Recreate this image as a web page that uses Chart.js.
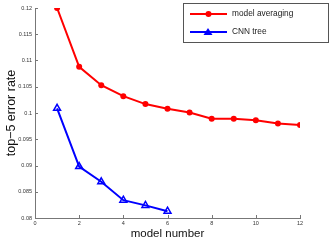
<!DOCTYPE html>
<html>
<head>
<meta charset="utf-8">
<script src="https://cdn.jsdelivr.net/npm/chart.js@4.4.0/dist/chart.umd.min.js"></script>
<style>
  html, body { margin: 0; padding: 0; background: #fff; }
  #wrap { width: 332px; height: 241px; }
</style>
</head>
<body>
<div id="wrap"><canvas id="chart" width="332" height="241"></canvas></div>
<script>
// ========== DATA ========== //
const modelNumbers = [1, 2, 3, 4, 5, 6, 7, 8, 9, 10, 11, 12];
const averagingErr = [0.1200, 0.1088, 0.1053, 0.1032, 0.1017, 0.1008, 0.1001, 0.0989, 0.0989, 0.0986, 0.0980, 0.0977];
const treeModels = [1, 2, 3, 4, 5, 6];
const treeErr = [0.1009, 0.0898, 0.0869, 0.0834, 0.0824, 0.0813];
const xTicks = [0, 2, 4, 6, 8, 10, 12];
const yTicks = [0.08, 0.085, 0.09, 0.095, 0.1, 0.105, 0.11, 0.115, 0.12];

const FONT = "'Liberation Sans', Arial, sans-serif";

// ticks drawn inward, MATLAB style
const inwardTicks = {
  id: "inwardTicks",
  afterDraw(c) {
    const ctx = c.ctx, x = c.scales.x, y = c.scales.y;
    ctx.save();
    ctx.strokeStyle = "#777";
    ctx.lineWidth = 1;
    ctx.beginPath();
    xTicks.forEach(v => {
      const px = Math.round(x.getPixelForValue(v)) + 0.5;
      ctx.moveTo(px, y.bottom); ctx.lineTo(px, y.bottom - 3);
    });
    yTicks.forEach(v => {
      const py = Math.round(y.getPixelForValue(v)) + 0.5;
      ctx.moveTo(x.left, py); ctx.lineTo(x.left + 3, py);
    });
    ctx.stroke();
    ctx.restore();
  }
};

// boxed legend in the top right corner
const boxLegend = {
  id: "boxLegend",
  afterDraw(c) {
    const ctx = c.ctx;
    const left = 183, top = 3, w = 145, h = 39;
    ctx.save();
    ctx.fillStyle = "#fff";
    ctx.fillRect(left, top, w, h);
    ctx.strokeStyle = "#555";
    ctx.lineWidth = 1;
    ctx.strokeRect(left + 0.5, top + 0.5, w, h);
    c.data.datasets.forEach((ds, i) => {
      const yy = top + 11 + i * 18;
      ctx.strokeStyle = ds.borderColor;
      ctx.lineWidth = 2;
      ctx.beginPath();
      ctx.moveTo(190, yy); ctx.lineTo(227, yy);
      ctx.stroke();
      ctx.fillStyle = ds.borderColor;
      ctx.beginPath();
      if (ds.pointStyle === "triangle") {
        ctx.moveTo(208, yy - 4); ctx.lineTo(212.5, yy + 3); ctx.lineTo(203.5, yy + 3);
      } else {
        ctx.arc(208.5, yy, 3, 0, Math.PI * 2);
      }
      ctx.closePath();
      ctx.fill();
      ctx.fillStyle = "#222";
      ctx.font = "8.3px " + FONT;
      ctx.textBaseline = "middle";
      ctx.fillText(ds.label, 232, yy);
    });
    ctx.restore();
  }
};

new Chart(document.getElementById("chart"), {
  type: "line",
  data: {
    datasets: [
      {
        label: "model averaging",
        data: modelNumbers.map((m, i) => ({ x: m, y: averagingErr[i] })),
        borderColor: "#ff0000",
        backgroundColor: "#ff0000",
        borderWidth: 2,
        pointStyle: "circle",
        pointRadius: 3,
        pointBorderWidth: 0
      },
      {
        label: "CNN tree",
        data: treeModels.map((m, i) => ({ x: m, y: treeErr[i] })),
        borderColor: "#0000ff",
        backgroundColor: "rgba(0,0,0,0)",
        borderWidth: 2,
        pointStyle: "triangle",
        pointRadius: 4,
        pointBorderWidth: 1.5
      }
    ]
  },
  options: {
    responsive: false,
    animation: false,
    layout: { padding: { top: 8, right: 32, left: 4, bottom: 0 } },
    plugins: { legend: { display: false }, tooltip: { enabled: false } },
    scales: {
      x: {
        type: "linear",
        min: 0, max: 12,
        afterBuildTicks: s => { s.ticks = xTicks.map(v => ({ value: v })); },
        afterFit: s => { s.height = 23; },
        border: { color: "#777", width: 1 },
        grid: { display: false, drawTicks: false },
        ticks: { font: { size: 5.5, family: FONT }, color: "#333", padding: 2, maxRotation: 0 },
        title: { display: true, text: "model number", font: { size: 11.5, family: FONT }, color: "#111", padding: { top: 1, bottom: 0 } }
      },
      y: {
        type: "linear",
        min: 0.08, max: 0.12,
        afterBuildTicks: s => { s.ticks = yTicks.map(v => ({ value: v })); },
        afterFit: s => { s.width = 31; },
        border: { color: "#777", width: 1 },
        grid: { display: false, drawTicks: false },
        ticks: { font: { size: 5.5, family: FONT }, color: "#333", padding: 3, callback: v => String(+v.toFixed(3)) },
        title: { display: true, text: "top\u22125 error rate", font: { size: 12.5, family: FONT }, color: "#111", padding: { top: 0, bottom: 0 } }
      }
    }
  },
  plugins: [inwardTicks, boxLegend]
});
</script>
</body>
</html>
